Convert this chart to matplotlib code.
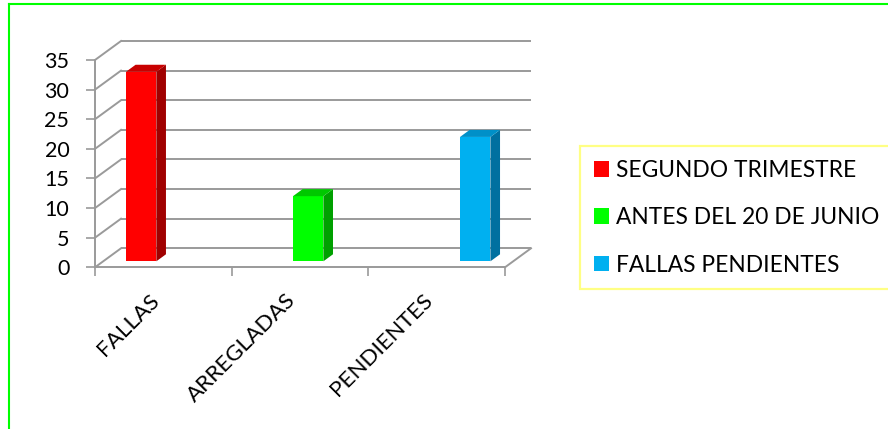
import matplotlib
matplotlib.use("Agg")
import matplotlib.pyplot as plt
from matplotlib.patches import Polygon, Patch
from matplotlib.lines import Line2D

# ---- data ----
categories = ["FALLAS", "ARREGLADAS", "PENDIENTES"]
series_names = ["SEGUNDO TRIMESTRE", "ANTES DEL 20 DE JUNIO", "FALLAS PENDIENTES"]
segundo_trimestre = [32, 0, 0]
antes_20_junio = [0, 11, 0]
fallas_pendientes = [0, 0, 21]
y_ticks = [0, 5, 10, 15, 20, 25, 30, 35]

series_values = [segundo_trimestre, antes_20_junio, fallas_pendientes]
front_colors = ["#FF0000", "#00FF00", "#00B0F0"]
side_colors = ["#A00000", "#00A000", "#0070A0"]
top_colors = ["#C80000", "#00C800", "#0090C8"]

plt.rcParams["font.family"] = ["Lato", "DejaVu Sans"]
FS_Y = 15.5
FS_CAT = 16.2
FS_LEG = 16.4

W, H = 888, 429
fig = plt.figure(figsize=(W / 100, H / 100), dpi=100)

# axes mapped onto the front plane of the 3D box
x_left, x_right = 95, 505
y_bottom, y_top = 267.3, 60
ax = fig.add_axes([x_left / W, 1 - y_bottom / H, (x_right - x_left) / W, (y_bottom - y_top) / H])
ax.set_xlim(0, len(categories))
ax.set_ylim(0, 35)
for s in ax.spines.values():
    s.set_visible(False)
ax.patch.set_visible(False)

px_x = (x_right - x_left) / len(categories)
px_y = (y_bottom - y_top) / 35.0
DX = 26 / px_x   # depth offset in data units
DY = 19 / px_y

grid_c = "#9A9A9A"
glw = 1.4
ncat = len(categories)
# back wall gridlines + left wall diagonals
for v in y_ticks:
    ax.plot([DX, ncat + DX], [v + DY, v + DY], color=grid_c, lw=glw, clip_on=False, zorder=1,
            solid_capstyle="butt")
    ax.plot([0, DX], [v, v + DY], color=grid_c, lw=glw, clip_on=False, zorder=1)
# floor front edge and right edge, front vertical axis
ax.plot([0, ncat], [0, 0], color=grid_c, lw=glw, clip_on=False, zorder=1)
ax.plot([ncat, ncat + DX], [0, DY], color=grid_c, lw=glw, clip_on=False, zorder=1)
ax.plot([0, 0], [0, 35], color=grid_c, lw=glw, clip_on=False, zorder=1)

# bars
nser = len(series_values)
bw = 1 / 4.5
d0, d1 = 0.315, 0.685
for s, vals in enumerate(series_values):
    for i, v in enumerate(vals):
        if v == 0:
            continue
        c = i + 0.5
        x0 = c + (s - (nser - 1) / 2) * bw - bw / 2
        x1 = x0 + bw
        ox0, oy0 = d0 * DX, d0 * DY
        ox1, oy1 = d1 * DX, d1 * DY
        front = Polygon([(x0 + ox0, oy0), (x1 + ox0, oy0), (x1 + ox0, v + oy0), (x0 + ox0, v + oy0)],
                        closed=True, facecolor=front_colors[s], edgecolor="none", zorder=3, clip_on=False)
        side = Polygon([(x1 + ox0, oy0), (x1 + ox1, oy1), (x1 + ox1, v + oy1), (x1 + ox0, v + oy0)],
                       closed=True, facecolor=side_colors[s], edgecolor="none", zorder=3, clip_on=False)
        top = Polygon([(x0 + ox0, v + oy0), (x1 + ox0, v + oy0), (x1 + ox1, v + oy1), (x0 + ox1, v + oy1)],
                      closed=True, facecolor=top_colors[s], edgecolor="none", zorder=3, clip_on=False)
        for p in (front, side, top):
            ax.add_patch(p)

# ticks
ax.set_yticks(y_ticks)
ax.set_yticklabels([str(t) for t in y_ticks], fontsize=FS_Y)
ax.tick_params(axis="y", direction="out", length=6.5, width=1.2, color=grid_c, pad=12)
ax.set_xticks(range(ncat + 1))
ax.set_xticklabels([])
ax.tick_params(axis="x", direction="out", length=6.5, width=1.2, color=grid_c)

# rotated category labels
for i, cat in enumerate(categories):
    ax.annotate(cat, xy=(i + 0.5, 0), xycoords="data", xytext=(0, -23), textcoords="offset pixels",
                rotation=45, ha="right", va="top", fontsize=FS_CAT, annotation_clip=False)

# legend
handles = [Patch(facecolor=front_colors[k], edgecolor="none") for k in range(nser)]
leg = fig.legend(handles, series_names, loc="upper left", bbox_to_anchor=(580 / W, 1 - 146 / H),
                 fontsize=FS_LEG, frameon=True, fancybox=False, borderaxespad=0, borderpad=0.6,
                 handlelength=0.68, handleheight=0.68, handletextpad=0.28, labelspacing=1.16)
leg.get_frame().set_edgecolor("#FFFF66")
leg.get_frame().set_linewidth(1.6)

# green outer border (top and left)
fig.add_artist(Line2D([9 / W, 1], [1 - 4 / H, 1 - 4 / H], transform=fig.transFigure, color="#00FF00", lw=1.5))
fig.add_artist(Line2D([9 / W, 9 / W], [0, 1 - 4 / H], transform=fig.transFigure, color="#00FF00", lw=1.5))

fig.savefig("out.png", dpi=100)
